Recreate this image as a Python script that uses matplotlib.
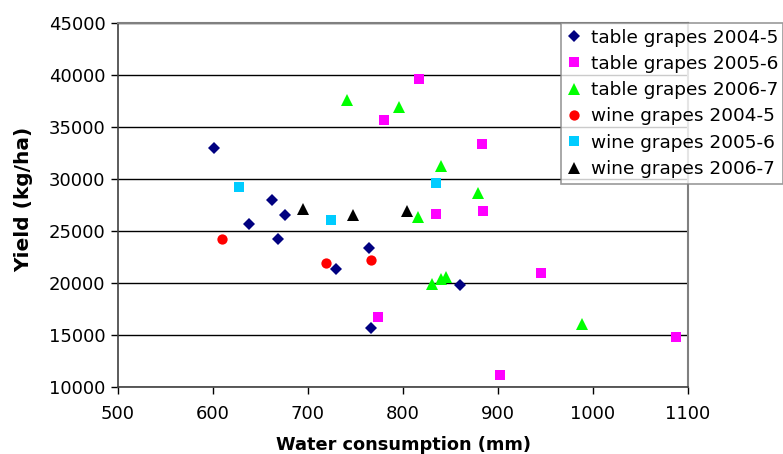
import matplotlib
matplotlib.use("Agg")
import matplotlib.pyplot as plt

plt.rcParams['font.family'] = ['DejaVu Sans']

# Water consumption (mm) and yield (kg/ha) per series
tg0405_x = [601, 638, 662, 668, 676, 729, 764, 766, 860]
tg0405_y = [33000, 25700, 28000, 24250, 26500, 21300, 23400, 15700, 19850]

tg0506_x = [780, 817, 835, 883, 884, 945, 902, 1087, 774]
tg0506_y = [35700, 39600, 26600, 33400, 26900, 20950, 11200, 14800, 16700]

tg0607_x = [741, 796, 840, 816, 830, 840, 845, 879, 988]
tg0607_y = [37600, 36900, 31250, 26300, 19950, 20350, 20550, 28650, 16100]

wg0405_x = [609, 719, 766]
wg0405_y = [24200, 21950, 22200]

wg0506_x = [627, 724, 835]
wg0506_y = [29200, 26100, 29650]

wg0607_x = [695, 747, 804]
wg0607_y = [27100, 26550, 26950]

series_labels = ["table grapes 2004-5", "table grapes 2005-6", "table grapes 2006-7",
                 "wine grapes 2004-5", "wine grapes 2005-6", "wine grapes 2006-7"]

x_ticks = [500, 600, 700, 800, 900, 1000, 1100]
y_ticks = [10000, 15000, 20000, 25000, 30000, 35000, 40000, 45000]

fig = plt.figure(figsize=(7.83, 4.54), dpi=100)
ax = fig.add_axes([118/783, 1-387/454, (688-118)/783, (387-23)/454])

styles = [
    (tg0405_x, tg0405_y, 'D', '#000080', 6.2),
    (tg0506_x, tg0506_y, 's', '#FF00FF', 7.2),
    (tg0607_x, tg0607_y, '^', '#00FF00', 8.2),
    (wg0405_x, wg0405_y, 'o', '#FF0000', 7.4),
    (wg0506_x, wg0506_y, 's', '#00CCFF', 7.2),
    (wg0607_x, wg0607_y, '^', '#000000', 8.2),
]
for (xs, ys, m, c, ms), lab in zip(styles, series_labels):
    ax.plot(xs, ys, linestyle='none', marker=m, color=c, markersize=ms,
            markeredgewidth=0, label=lab, zorder=3)

ax.set_xlim(500, 1100)
ax.set_ylim(10000, 45000)
ax.set_xticks(x_ticks)
ax.set_yticks(y_ticks)
ax.tick_params(axis='both', labelsize=13, colors='#000000', length=5,
               width=1, direction='out', pad=4)
ax.tick_params(axis='x', pad=8)
ax.grid(axis='y', color='#000000', linewidth=1)
ax.set_axisbelow(True)

for side in ['left', 'bottom']:
    ax.spines[side].set_color('#404040')
    ax.spines[side].set_linewidth(1.2)
for side in ['top', 'right']:
    ax.spines[side].set_color('#808080')
    ax.spines[side].set_linewidth(1.5)

ax.set_xlabel("Water consumption (mm)", fontsize=12.8, fontweight='bold', labelpad=9)
ax.set_ylabel("Yield (kg/ha)", fontsize=14.5, fontweight='bold')
ax.yaxis.set_label_coords(-0.148, 0.515)

leg = fig.legend(loc='upper left', bbox_to_anchor=(561/783, 1-23/454),
                 bbox_transform=fig.transFigure, fontsize=13.3, numpoints=1,
                 frameon=True, fancybox=False, borderpad=0.3, labelspacing=0.45,
                 handlelength=0.8, handletextpad=0.5, borderaxespad=0)
leg.get_frame().set_edgecolor('#808080')
leg.get_frame().set_linewidth(1.2)

fig.savefig("out.png", dpi=100)
